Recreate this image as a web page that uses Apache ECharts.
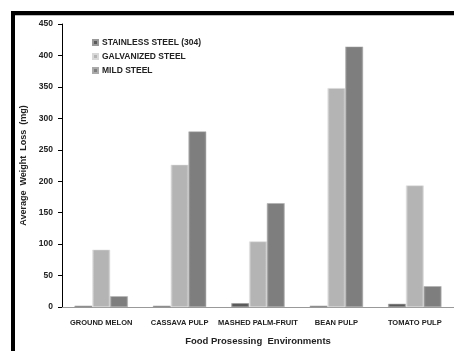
<!DOCTYPE html>
<html><head><meta charset="utf-8">
<script src="https://cdn.jsdelivr.net/npm/echarts@6/dist/echarts.min.js"></script>
<style>html,body{margin:0;padding:0;background:#fff}#c{width:454px;height:351px}</style>
</head><body><div id="c"></div>
<script>
const categories = ['GROUND MELON','CASSAVA PULP','MASHED PALM-FRUIT','BEAN PULP','TOMATO PULP'];
const stainless = [2, 2, 6, 2, 5];
const galvanized = [91, 226, 104, 348, 193];
const mild = [17, 279, 165, 414, 33];
const yTicks = [0, 50, 100, 150, 200, 250, 300, 350, 400, 450];

const font = 'Liberation Sans';
function grad(a, b, c) {
  return new echarts.graphic.LinearGradient(0, 0, 1, 0, [
    {offset: 0, color: a}, {offset: 0.12, color: b}, {offset: 0.88, color: b}, {offset: 1, color: c}
  ]);
}
const chart = echarts.init(document.getElementById('c'));
chart.setOption({
  animation: false,
  backgroundColor: '#fff',
  grid: {left: 62, top: 24, right: 0, bottom: 43},
  legend: {
    orient: 'vertical', left: 87, top: 33, itemWidth: 5, itemHeight: 5, itemGap: 5,
    icon: 'rect',
    textStyle: {fontFamily: font, fontWeight: 'bold', fontSize: 8.5, color: '#222', padding: [0,0,0,-1]},
    data: ['STAINLESS STEEL (304)', 'GALVANIZED STEEL', 'MILD STEEL']
  },
  xAxis: {
    type: 'category', data: categories,
    axisLine: {lineStyle: {color: '#999', width: 1}},
    axisTick: {show: false},
    axisLabel: {fontFamily: font, fontWeight: 'bold', fontSize: 7.5, color: '#222', margin: 12, interval: 0},
    name: 'Food Prosessing  Environments', nameLocation: 'middle', nameGap: 29,
    nameTextStyle: {fontFamily: font, fontWeight: 'bold', fontSize: 9.5, color: '#222'}
  },
  yAxis: {
    type: 'value', min: 0, max: 450, interval: 50,
    axisLine: {show: true, lineStyle: {color: '#000', width: 1}},
    axisTick: {show: true, inside: false, length: 4, lineStyle: {color: '#000'}},
    splitLine: {show: false},
    axisLabel: {fontFamily: font, fontWeight: 'bold', fontSize: 8.5, color: '#222', margin: 9},
    name: 'Average  Weight  Loss  (mg)', nameLocation: 'middle', nameGap: 34, nameRotate: 90,
    nameTextStyle: {fontFamily: font, fontWeight: 'bold', fontSize: 9, color: '#222'}
  },
  series: [
    {name: 'STAINLESS STEEL (304)', type: 'bar', data: stainless, barGap: '0%', barCategoryGap: '32%',
     itemStyle: {color: grad('#888', '#5a5a5a', '#777'), borderColor: '#999', borderWidth: 0.5}},
    {name: 'GALVANIZED STEEL', type: 'bar', data: galvanized, barGap: '0%',
     itemStyle: {color: grad('#e2e2e2', '#b4b4b4', '#cfcfcf'), borderColor: '#d8d8d8', borderWidth: 0.5}},
    {name: 'MILD STEEL', type: 'bar', data: mild, barGap: '0%',
     itemStyle: {color: grad('#a0a0a0', '#7e7e7e', '#959595'), borderColor: '#aaa', borderWidth: 0.5}}
  ],
  color: ['#5a5a5a', '#b4b4b4', '#7e7e7e'],
  graphic: [
    {type: 'rect', shape: {x: 11, y: 11, width: 443, height: 4}, style: {fill: '#000'}, z: 10},
    {type: 'rect', shape: {x: 15, y: 15, width: 439, height: 1}, style: {fill: '#bbb'}, z: 10},
    {type: 'rect', shape: {x: 11, y: 11, width: 4, height: 340}, style: {fill: '#000'}, z: 10}
  ]
});
</script></body></html>
